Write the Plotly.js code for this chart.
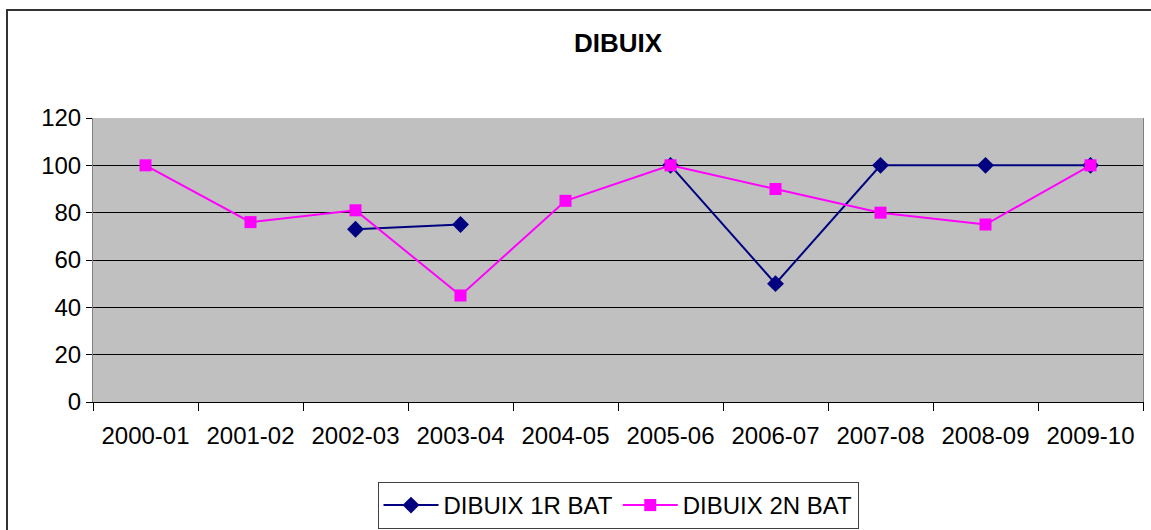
<!DOCTYPE html>
<html>
<head>
<meta charset="utf-8">
<script src="https://cdn.plot.ly/plotly-3.0.1.min.js"></script>
<style>
html,body{margin:0;padding:0;background:#fff;overflow:hidden;}
#frame{position:absolute;left:6px;top:9px;width:2000px;height:2000px;border-left:2px solid #333;border-top:2px solid #333;}
#chart{position:absolute;left:0;top:0;width:1151px;height:530px;}
</style>
</head>
<body>
<div id="frame"></div>
<div id="chart"></div>
<script>
const categories = ["2000-01","2001-02","2002-03","2003-04","2004-05","2005-06","2006-07","2007-08","2008-09","2009-10"];
const seriesNames = ["DIBUIX 1R BAT","DIBUIX 2N BAT"];
const dibuix1r = [null, null, 73, 75, null, 100, 50, 100, 100, 100];
const dibuix2n = [100, 76, 81, 45, 85, 100, 90, 80, 75, 100];
const yTicks = [0, 20, 40, 60, 80, 100, 120];

const FONT = "Liberation Sans, Arial, sans-serif";

const traces = [
  {
    x: categories, y: dibuix1r, name: seriesNames[0], type: "scatter", mode: "lines+markers",
    connectgaps: false,
    line: {color: "#000080", width: 2},
    marker: {symbol: "diamond", size: 13, color: "#000080"}
  },
  {
    x: categories, y: dibuix2n, name: seriesNames[1], type: "scatter", mode: "lines+markers",
    connectgaps: false,
    line: {color: "#FF00FF", width: 2},
    marker: {symbol: "square", size: 12, color: "#FF00FF"}
  }
];

const layout = {
  width: 1151, height: 530,
  margin: {l: 93, r: 8, t: 118, b: 128, autoexpand: false},
  paper_bgcolor: "rgba(0,0,0,0)",
  plot_bgcolor: "#C0C0C0",
  font: {family: FONT, size: 24, color: "#000"},
  title: {text: "<b>DIBUIX</b>", font: {family: FONT, size: 26, color: "#000"}, x: 618/1151, xanchor: "center", xref: "container", y: 1 - 43/530, yanchor: "middle", yref: "container"},
  showlegend: true,
  legend: {
    orientation: "h", x: 0.5, xanchor: "center", xref: "paper",
    y: (530 - 482) / 530, yanchor: "top", yref: "container",
    bordercolor: "#404040", borderwidth: 1, bgcolor: "#fff",
    font: {family: FONT, size: 24, color: "#000"},
    itemwidth: 55
  },
  xaxis: {
    type: "category",
    range: [-0.5, categories.length - 0.5],
    tickson: "boundaries",
    ticks: "outside", ticklen: 8, tickcolor: "#000", tickwidth: 1,
    ticklabelstandoff: 12,
    automargin: false,
    showgrid: false,
    showline: true, linecolor: "#000", linewidth: 1,
    tickfont: {family: FONT, size: 24, color: "#000"},
    fixedrange: true
  },
  yaxis: {
    range: [0, 120],
    tickvals: yTicks,
    ticks: "outside", ticklen: 6, tickcolor: "#000", tickwidth: 1,
    ticklabelstandoff: 0,
    automargin: false,
    showgrid: true, gridcolor: "#000", gridwidth: 1,
    zeroline: false,
    showline: true, linecolor: "#808080", linewidth: 1, mirror: true,
    tickfont: {family: FONT, size: 24, color: "#000"},
    fixedrange: true
  }
};

Plotly.newPlot("chart", traces, layout, {staticPlot: true, displayModeBar: false});
</script>
</body>
</html>
